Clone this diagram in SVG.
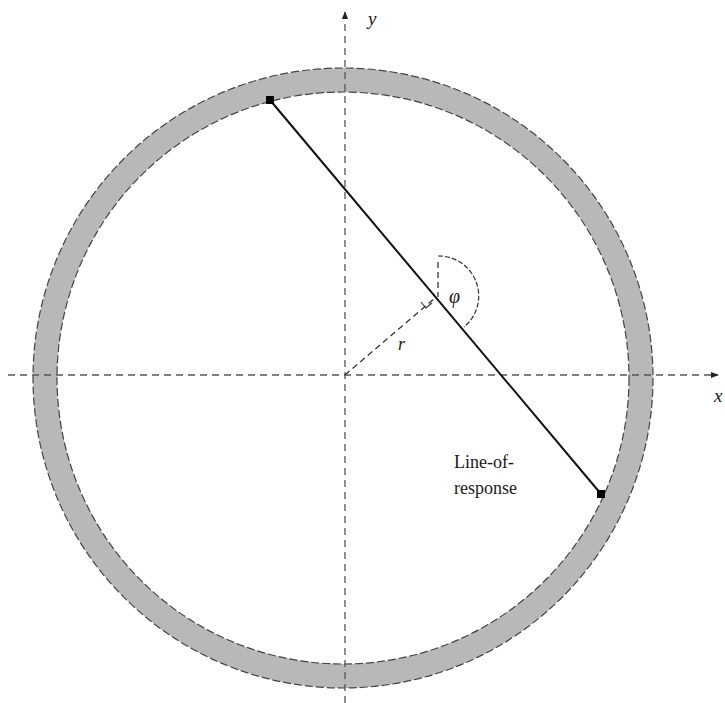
<svg xmlns="http://www.w3.org/2000/svg" width="725" height="703" viewBox="0 0 725 703">
<style>
.axis{stroke:#555;stroke-width:1.3;stroke-dasharray:7 5;fill:none}
.edge{stroke:#444;stroke-width:1.2;stroke-dasharray:8 3;fill:none}
.thin{stroke:#333;stroke-width:1.3;stroke-dasharray:6 4;fill:none}
.lbl{font-family:"Liberation Serif","Times New Roman",serif;fill:#1a1a1a}
.it{font-style:italic}
</style>
<defs>
<marker id="arr" viewBox="0 0 10 10" refX="9" refY="5" markerWidth="8" markerHeight="8" orient="auto" markerUnits="userSpaceOnUse">
<path d="M0,1 L10,5 L0,9 z" fill="#222"/>
</marker>
</defs>
<rect width="725" height="703" fill="#fff"/>
<g id="ring">
<circle cx="343" cy="378" r="298" fill="none" stroke="#b8b8b8" stroke-width="24"/>
<circle class="edge" cx="343" cy="378" r="310"/>
<circle class="edge" cx="343" cy="378" r="286"/>
</g>
<g id="connectors">
<line class="axis" x1="8" y1="375" x2="718" y2="375" marker-end="url(#arr)"/>
<line class="axis" x1="345" y1="703" x2="345" y2="12" marker-end="url(#arr)"/>
<line x1="270" y1="100" x2="601" y2="494" stroke="#111" stroke-width="2"/>
<line class="thin" x1="345" y1="375" x2="435" y2="298"/>
<line class="thin" x1="438" y1="262" x2="438" y2="297"/>
<path d="M438,256 A40,40 0 0 1 464,327" fill="none" stroke="#333" stroke-width="1.2" stroke-dasharray="5 2"/>
<path d="M421,302 L426,308 L432,303" fill="none" stroke="#333" stroke-width="1.1"/>
</g>
<g id="endpoints">
<rect x="266" y="96" width="8" height="8" fill="#000"/>
<rect x="597" y="490" width="8" height="8" fill="#000"/>
</g>
<g id="labels">
<text class="lbl it" x="368" y="25" font-size="19">y</text>
<text class="lbl it" x="714" y="402" font-size="19">x</text>
<text class="lbl it" x="398" y="350" font-size="18">r</text>
<text class="lbl it" x="449" y="303" font-size="20">φ</text>
<text class="lbl" x="454" y="468" font-size="18">Line-of-</text>
<text class="lbl" x="454" y="494" font-size="18">response</text>
</g>
</svg>
